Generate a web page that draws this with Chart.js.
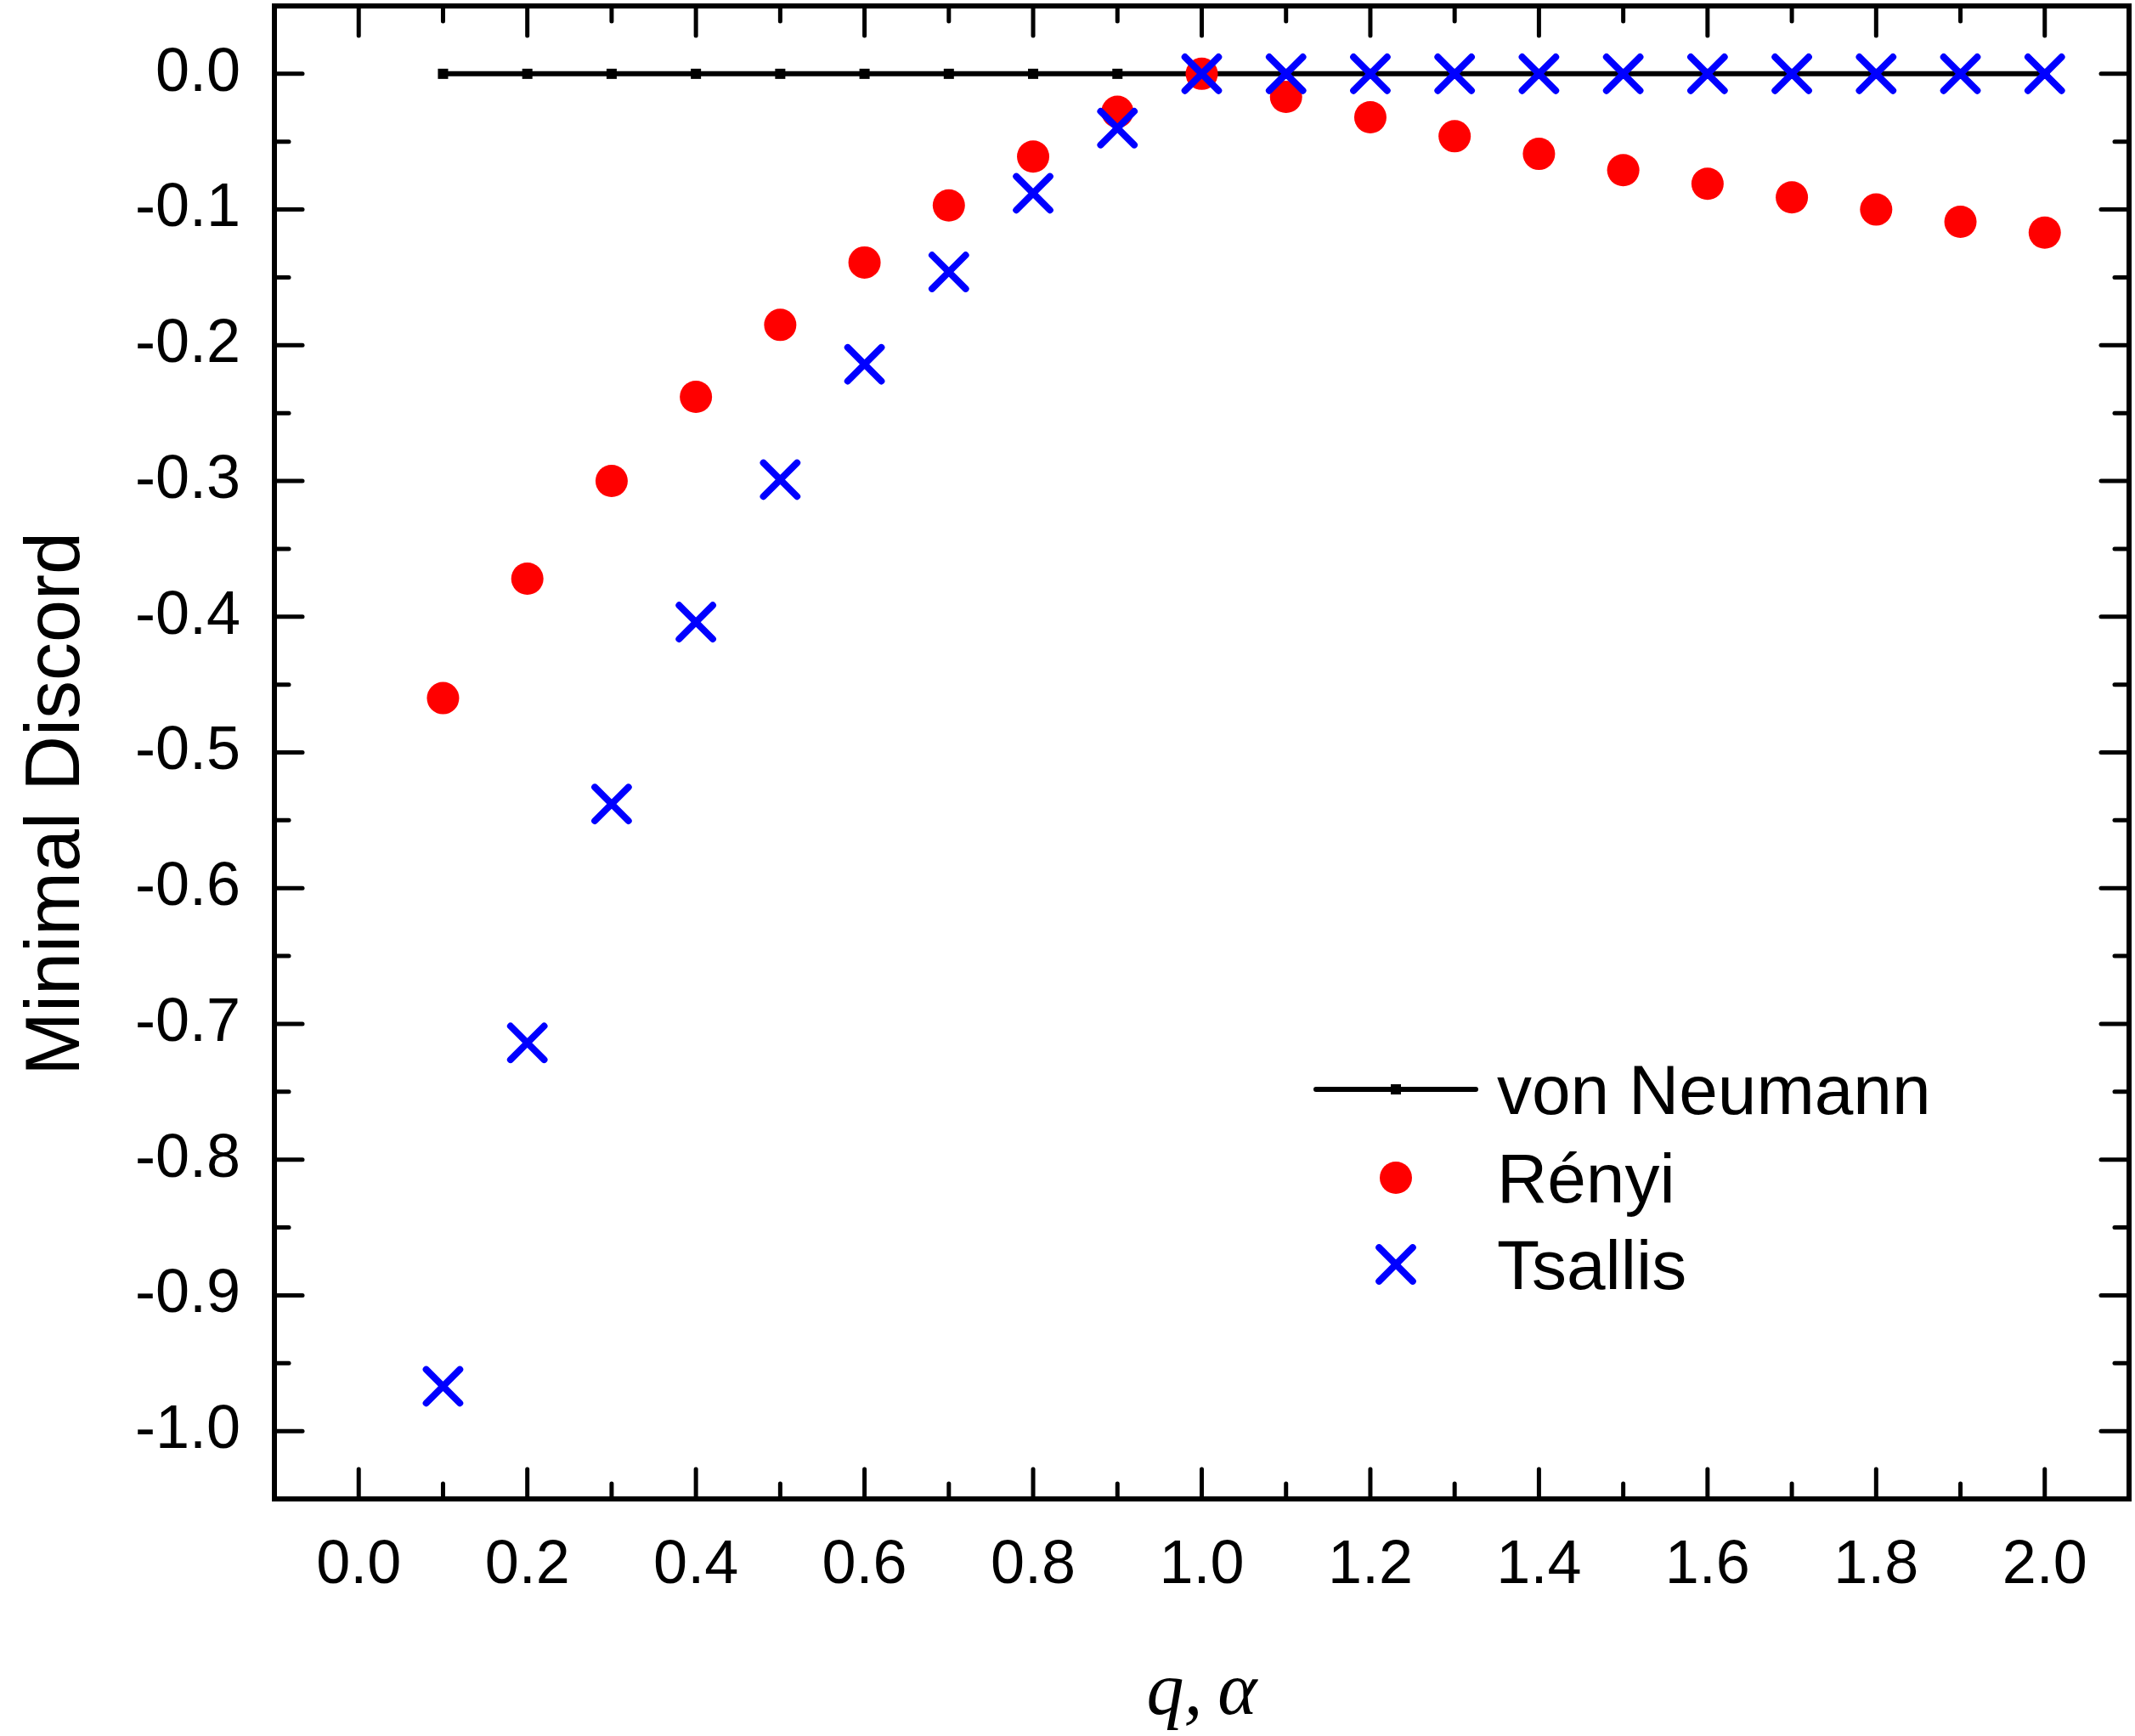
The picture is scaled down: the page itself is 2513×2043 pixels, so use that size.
<!DOCTYPE html>
<html>
<head>
<meta charset="utf-8">
<script src="https://cdn.jsdelivr.net/npm/chart.js@4/dist/chart.umd.min.js"></script>
<style>
html,body{margin:0;padding:0;background:#ffffff;}
#wrap{width:2513px;height:2043px;position:relative;}
</style>
</head>
<body>
<div id="wrap"><canvas id="c"></canvas></div>
<script>
// ---- data ----
const qValues = [0.1,0.2,0.3,0.4,0.5,0.6,0.7,0.8,0.9,1.0,1.1,1.2,1.3,1.4,1.5,1.6,1.7,1.8,1.9,2.0];
const vonNeumann = [0,0,0,0,0,0,0,0,0,0,0,0,0,0,0,0,0,0,0,0];
const renyi = [-0.460,-0.372,-0.300,-0.238,-0.185,-0.139,-0.097,-0.061,-0.028,0.000,-0.017,-0.032,-0.046,-0.059,-0.071,-0.081,-0.091,-0.100,-0.109,-0.117];
const tsallis = [-0.967,-0.714,-0.538,-0.404,-0.299,-0.214,-0.146,-0.088,-0.040,0,0,0,0,0,0,0,0,0,0,0];
const seriesNames = ['von Neumann','Rényi','Tsallis'];
const xMajorTicks = [0.0,0.2,0.4,0.6,0.8,1.0,1.2,1.4,1.6,1.8,2.0];
const xMinorTicks = [0.1,0.3,0.5,0.7,0.9,1.1,1.3,1.5,1.7,1.9];
const yMajorTicks = [0.0,-0.1,-0.2,-0.3,-0.4,-0.5,-0.6,-0.7,-0.8,-0.9,-1.0];
const yMinorTicks = [-0.05,-0.15,-0.25,-0.35,-0.45,-0.55,-0.65,-0.75,-0.85,-0.95];
const xTitle = 'q,\u2009\u03B1';
const yTitle = 'Minimal Discord';

const toPts = arr => qValues.map((q,i) => ({x:q, y:arr[i]}));
const SANS = '"Liberation Sans", Arial, sans-serif';

const zeroPad = s => { s.paddingTop = 0; s.paddingBottom = 0; s.paddingLeft = 0; s.paddingRight = 0; };

const framePlugin = {
  id: 'frameTicks',
  beforeDatasetsDraw(chart) {
    chart.ctx.save();
    chart.ctx.lineCap = 'round';
  },
  afterDatasetsDraw(chart) {
    chart.ctx.restore();
    const {ctx, chartArea: a, scales} = chart;
    const xs = scales.x, ys = scales.y;
    ctx.save();
    ctx.strokeStyle = '#000';
    ctx.lineCap = 'round';
    ctx.lineWidth = 5;
    const tickX = (vals, len) => vals.forEach(v => {
      const px = xs.getPixelForValue(v);
      ctx.beginPath(); ctx.moveTo(px, a.bottom); ctx.lineTo(px, a.bottom - len); ctx.stroke();
      ctx.beginPath(); ctx.moveTo(px, a.top); ctx.lineTo(px, a.top + len); ctx.stroke();
    });
    const tickY = (vals, len) => vals.forEach(v => {
      const py = ys.getPixelForValue(v);
      ctx.beginPath(); ctx.moveTo(a.left, py); ctx.lineTo(a.left + len, py); ctx.stroke();
      ctx.beginPath(); ctx.moveTo(a.right, py); ctx.lineTo(a.right - len, py); ctx.stroke();
    });
    tickX(xMajorTicks, 35); tickX(xMinorTicks, 18);
    tickY(yMajorTicks, 33); tickY(yMinorTicks, 17);
    ctx.lineCap = 'butt';
    ctx.lineJoin = 'miter';
    ctx.lineWidth = 6;
    ctx.strokeRect(a.left, a.top, a.right - a.left, a.bottom - a.top);
    ctx.restore();
  },
  afterDraw(chart) {
    const {ctx, chartArea: a} = chart;
    ctx.save();
    ctx.fillStyle = '#000';
    // x title
    ctx.font = 'italic 88px "Liberation Serif", "Times New Roman", serif';
    ctx.textAlign = 'center';
    ctx.textBaseline = 'alphabetic';
    ctx.fillText(xTitle, (a.left + a.right) / 2, 2017);
    // y title
    ctx.save();
    ctx.translate(93, 946);
    ctx.rotate(-Math.PI / 2);
    ctx.font = '90px ' + SANS;
    ctx.textAlign = 'center';
    ctx.textBaseline = 'alphabetic';
    ctx.fillText(yTitle, 0, 0);
    ctx.restore();
    // legend
    const rows = [1282, 1386, 1488];
    const mx = 1643;
    chart.data.datasets.forEach((ds, i) => {
      const y = rows[i];
      if (ds.showLine) {
        ctx.strokeStyle = ds.borderColor;
        ctx.lineWidth = ds.borderWidth;
        ctx.lineCap = 'round';
        ctx.beginPath(); ctx.moveTo(1549, y); ctx.lineTo(1737, y); ctx.stroke();
      }
      if (ds.pointStyle === 'circle') {
        ctx.fillStyle = ds.pointBackgroundColor;
        ctx.beginPath(); ctx.arc(mx, y, ds.pointRadius, 0, Math.PI * 2); ctx.fill();
      } else if (ds.pointStyle === 'rect') {
        const s = ds.pointRadius * Math.SQRT1_2;
        ctx.fillStyle = ds.pointBackgroundColor;
        ctx.fillRect(mx - s, y - s, 2 * s, 2 * s);
      } else if (ds.pointStyle === 'crossRot') {
        const d = ds.pointRadius * Math.SQRT1_2;
        ctx.strokeStyle = ds.pointBorderColor;
        ctx.lineWidth = ds.pointBorderWidth;
        ctx.lineCap = 'round';
        ctx.beginPath();
        ctx.moveTo(mx - d, y - d); ctx.lineTo(mx + d, y + d);
        ctx.moveTo(mx - d, y + d); ctx.lineTo(mx + d, y - d);
        ctx.stroke();
      }
      ctx.fillStyle = '#000';
      ctx.font = '82px ' + SANS;
      ctx.textAlign = 'left';
      ctx.textBaseline = 'alphabetic';
      ctx.fillText(ds.label, 1762, y + 29);
    });
    ctx.restore();
  }
};

new Chart(document.getElementById('c'), {
  type: 'scatter',
  data: {
    datasets: [
      {
        label: seriesNames[0],
        data: toPts(vonNeumann),
        showLine: true,
        borderColor: '#000000',
        borderWidth: 6,
        pointStyle: 'rect',
        pointRadius: 8.5,
        pointBackgroundColor: '#000000',
        pointBorderColor: '#000000',
        pointBorderWidth: 0,
        order: 3
      },
      {
        label: seriesNames[1],
        data: toPts(renyi),
        showLine: false,
        pointStyle: 'circle',
        pointRadius: 19,
        pointBackgroundColor: '#ff0000',
        pointBorderColor: '#ff0000',
        pointBorderWidth: 0,
        order: 2
      },
      {
        label: seriesNames[2],
        data: toPts(tsallis),
        showLine: false,
        pointStyle: 'crossRot',
        pointRadius: 28,
        pointBackgroundColor: '#0000ff',
        pointBorderColor: '#0000ff',
        pointBorderWidth: 8,
        order: 1
      }
    ]
  },
  options: {
    responsive: true,
    maintainAspectRatio: false,
    animation: false,
    events: [],
    layout: { autoPadding: false, padding: { top: 7, right: 7, left: 0, bottom: 0 } },
    plugins: { legend: { display: false }, tooltip: { enabled: false } },
    scales: {
      x: {
        type: 'linear',
        min: -0.1, max: 2.1,
        afterBuildTicks: s => { s.ticks = xMajorTicks.map(v => ({ value: v })); },
        afterFit: s => { s.height = 279; zeroPad(s); },
        grid: { display: false, drawTicks: false },
        border: { display: false },
        ticks: {
          padding: 36, color: '#000', autoSkip: false, maxRotation: 0,
          font: { family: SANS, size: 72 },
          callback: v => Number(v).toFixed(1)
        }
      },
      y: {
        type: 'linear',
        min: -1.05, max: 0.05,
        afterBuildTicks: s => { s.ticks = yMajorTicks.map(v => ({ value: v })); },
        afterFit: s => { s.width = 323; zeroPad(s); },
        grid: { display: false, drawTicks: false },
        border: { display: false },
        ticks: {
          padding: 40, color: '#000', autoSkip: false,
          font: { family: SANS, size: 72 },
          callback: v => Number(v).toFixed(1)
        }
      }
    }
  },
  plugins: [framePlugin]
});
</script>
</body>
</html>
